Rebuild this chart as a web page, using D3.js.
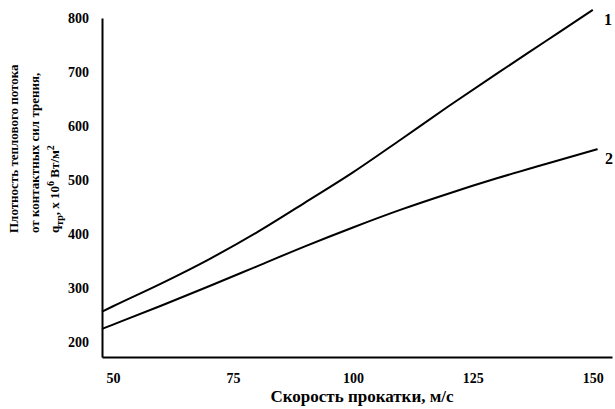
<!DOCTYPE html>
<html>
<head>
<meta charset="utf-8">
<script src="https://cdn.jsdelivr.net/npm/d3@7"></script>
<style>
  body { margin: 0; background: #fff; }
  text { font-family: "Liberation Serif", "Times New Roman", serif; font-weight: bold; fill: #000; }
</style>
</head>
<body>
<div id="chart"></div>
<script>
const speed1 = [47.7, 50, 60, 70, 80, 90, 100, 110, 120, 130, 140, 150];
const flux1 = [256, 266, 308, 353, 403, 458, 514, 575, 637, 697, 756, 815];
const speed2 = [47.7, 50, 60, 70, 80, 90, 100, 110, 120, 130, 140, 151];
const flux2 = [224, 232, 267, 303, 340, 377, 412, 445, 475, 503, 529, 557];
const xTicks = [50, 75, 100, 125, 150];
const yTicks = [200, 300, 400, 500, 600, 700, 800];
const curveLabels = ["1", "2"];

const width = 615, height = 409;

const svg = d3.select("#chart")
  .append("svg")
    .attr("width", width)
    .attr("height", height);

const x = d3.scaleLinear().domain([47.7, 154]).range([102, 612]);
const y = d3.scaleLinear().domain([172, 800]).range([357, 18]);

// axes: no tick marks, only labels
const xAxis = svg.append("g")
  .attr("transform", "translate(0,357)")
  .call(d3.axisBottom(x).tickValues(xTicks).tickSize(0).tickSizeOuter(0).tickPadding(16));

const yAxis = svg.append("g")
  .attr("transform", "translate(102,0)")
  .call(d3.axisLeft(y).tickValues(yTicks).tickSize(0).tickSizeOuter(0).tickPadding(13));

[xAxis, yAxis].forEach(function(a) {
  a.select(".domain").attr("stroke", "#000").attr("stroke-width", 2);
  a.selectAll("text")
    .style("font-family", "Liberation Serif, serif")
    .style("font-weight", "bold")
    .style("font-size", "14px")
    .attr("fill", "#000");
});

const line = d3.line()
  .x(d => x(d[0]))
  .y(d => y(d[1]))
  .curve(d3.curveMonotoneX);

const series = [d3.zip(speed1, flux1), d3.zip(speed2, flux2)];

svg.selectAll(".curve")
  .data(series)
  .enter().append("path")
    .attr("class", "curve")
    .attr("d", line)
    .attr("fill", "none")
    .attr("stroke", "#000")
    .attr("stroke-width", 2);

// curve numbers next to the line ends
svg.selectAll(".num")
  .data(series)
  .enter().append("text")
    .attr("class", "num")
    .attr("x", (d, i) => i === 0 ? 604 : 605)
    .attr("y", d => y(d[d.length - 1][1]) + 15)
    .style("font-size", "16px")
    .text((d, i) => curveLabels[i]);

// axis titles
svg.append("text")
  .attr("x", 362)
  .attr("y", 402)
  .attr("text-anchor", "middle")
  .style("font-size", "17px")
  .text("Скорость прокатки, м/с");

const yTitle = svg.append("text")
  .attr("transform", "translate(0,233) rotate(-90)")
  .style("font-size", "13px");

yTitle.append("tspan").attr("x", 0).attr("y", 18).text("Плотность теплового потока");
yTitle.append("tspan").attr("x", 0).attr("y", 39).text("от контактных сил трения,");
const third = yTitle.append("tspan").attr("x", 0).attr("y", 59);
third.append("tspan").text("q");
third.append("tspan").attr("dy", 4).style("font-size", "10px").text("тр");
third.append("tspan").attr("dy", -4).text(", x 10");
third.append("tspan").attr("dy", -5).style("font-size", "10px").text("6");
third.append("tspan").attr("dy", 5).text(" Вт/м");
third.append("tspan").attr("dy", -5).style("font-size", "10px").text("2");
</script>
</body>
</html>
